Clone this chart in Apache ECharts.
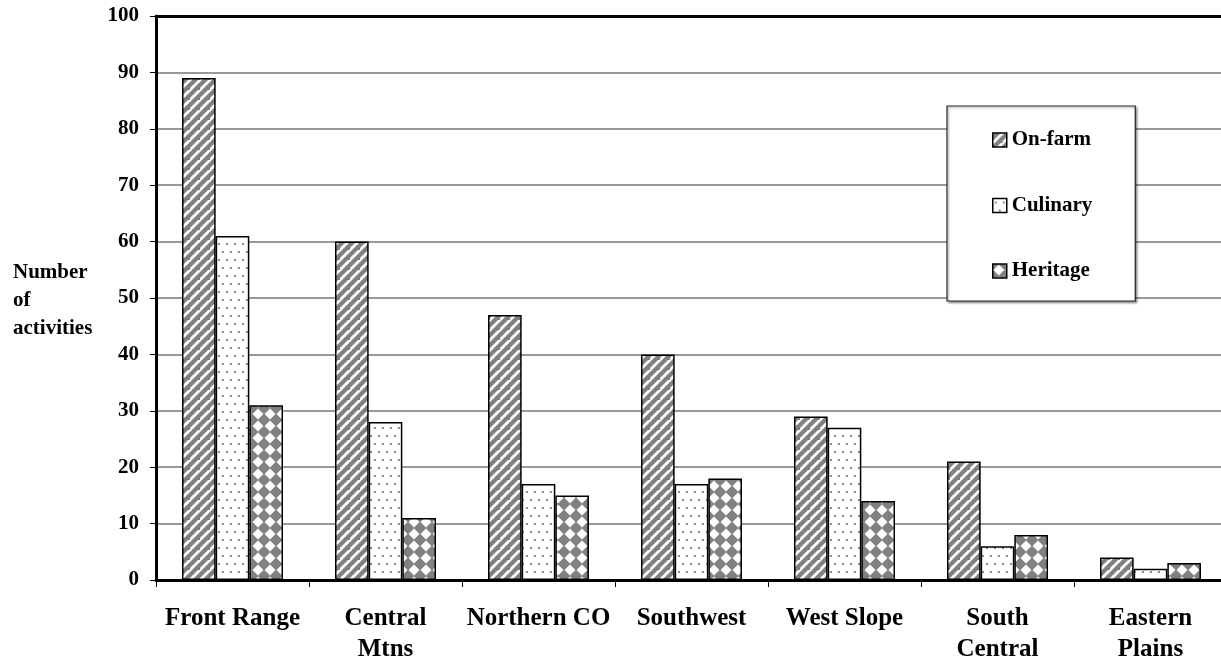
<!DOCTYPE html>
<html>
<head>
<meta charset="utf-8">
<script src="https://cdn.jsdelivr.net/npm/echarts@6/dist/echarts.min.js"></script>
<style>
  html, body { margin: 0; padding: 0; background: #fff; }
  #chart { width: 1221px; height: 661px; }
</style>
</head>
<body>
<div id="chart"></div>
<script>
// ---- Data ----
var categories = ['Front Range', 'Central\nMtns', 'Northern CO', 'Southwest', 'West Slope', 'South\nCentral', 'Eastern\nPlains'];
var seriesNames = ['On-farm', 'Culinary', 'Heritage'];
var onFarm   = [89, 60, 47, 40, 29, 21, 4];
var culinary = [61, 28, 17, 17, 27, 6, 2];
var heritage = [31, 11, 15, 18, 14, 8, 3];
var yTicks = { min: 0, max: 100, interval: 10 };
var yAxisTitle = 'Number\nof\nactivities';

// ---- Patterns ----
function stripePattern() {
  var s = 10, c = document.createElement('canvas');
  c.width = s; c.height = s;
  var g = c.getContext('2d');
  g.fillStyle = '#808080'; g.fillRect(0, 0, s, s);
  g.strokeStyle = '#ffffff'; g.lineWidth = 2.8;
  g.beginPath();
  g.moveTo(-3, s + 3); g.lineTo(s + 3, -3);
  g.moveTo(-3 - s, s + 3); g.lineTo(3, -3);
  g.moveTo(s - 3, 2 * s + 3); g.lineTo(2 * s + 3, s - 3);
  g.stroke();
  return c;
}
function dotPattern() {
  var s = 16, c = document.createElement('canvas');
  c.width = s; c.height = s;
  var g = c.getContext('2d');
  g.fillStyle = '#ffffff'; g.fillRect(0, 0, s, s);
  g.fillStyle = '#8c8c8c';
  [[2, 3], [10, 3], [6, 11], [14, 11]].forEach(function (p) {
    g.fillRect(p[0], p[1], 2, 2);
  });
  return c;
}
function diamondPattern() {
  var d = 12, c = document.createElement('canvas');
  c.width = d; c.height = d;
  var g = c.getContext('2d');
  g.fillStyle = '#808080'; g.fillRect(0, 0, d, d);
  g.fillStyle = '#ffffff';
  var h = d / 2, r = h - 0.5;
  g.beginPath();
  g.moveTo(h, h - r); g.lineTo(h + r, h); g.lineTo(h, h + r); g.lineTo(h - r, h);
  g.closePath(); g.fill();
  return c;
}
var patterns = [stripePattern(), dotPattern(), diamondPattern()];
var seriesData = [onFarm, culinary, heritage];

var FONT = 'Liberation Serif';
var chart = echarts.init(document.getElementById('chart'), null, { renderer: 'canvas' });

var series = seriesNames.map(function (name, i) {
  return {
    name: name,
    type: 'bar',
    data: seriesData[i],
    barGap: '0%',
    barCategoryGap: '34%',
    itemStyle: {
      color: { image: patterns[i], repeat: 'repeat' },
      borderColor: '#000',
      borderWidth: 1.5
    },
    emphasis: { disabled: true },
    animation: false
  };
});

chart.setOption({
  animation: false,
  backgroundColor: '#ffffff',
  title: {
    text: yAxisTitle,
    left: 13,
    top: 259,
    padding: 0,
    textStyle: { fontFamily: FONT, fontWeight: 'bold', fontSize: 21, lineHeight: 28, color: '#000' }
  },
  legend: {
    orient: 'vertical',
    left: 947,
    top: 106,
    padding: [22, 43, 18, 45],
    itemGap: 41.5,
    itemWidth: 14,
    itemHeight: 14,
    icon: 'rect',
    backgroundColor: '#fff',
    borderColor: '#222',
    borderWidth: 1.2,
    shadowColor: 'rgba(0,0,0,0.35)',
    shadowBlur: 2,
    shadowOffsetX: 1.5,
    shadowOffsetY: 1.5,
    itemStyle: { borderColor: '#000', borderWidth: 1.5 },
    textStyle: { fontFamily: FONT, fontWeight: 'bold', fontSize: 21, lineHeight: 24, color: '#000' },
    data: seriesNames
  },
  grid: { left: 156, top: 16, bottom: 81, right: -6, containLabel: false, outerBoundsMode: 'none' },
  xAxis: [{
    type: 'category',
    data: categories,
    position: 'bottom',
    axisLine: { lineStyle: { color: '#000', width: 3 } },
    axisTick: { show: true, alignWithLabel: false, length: 7, lineStyle: { color: '#000', width: 1 } },
    axisLabel: { margin: 23, fontFamily: FONT, fontWeight: 'bold', fontSize: 25, lineHeight: 31, color: '#000', interval: 0 },
    splitLine: { show: false }
  }, {
    type: 'category',
    data: categories,
    position: 'top',
    axisLine: { lineStyle: { color: '#000', width: 3 } },
    axisTick: { show: false },
    axisLabel: { show: false },
    splitLine: { show: false }
  }],
  yAxis: {
    type: 'value',
    min: yTicks.min,
    max: yTicks.max,
    interval: yTicks.interval,
    axisLine: { show: true, lineStyle: { color: '#000', width: 3 } },
    axisTick: { show: true, length: 6, lineStyle: { color: '#000', width: 1 } },
    axisLabel: { margin: 17, fontFamily: FONT, fontWeight: 'bold', fontSize: 21, color: '#000' },
    splitLine: { show: true, lineStyle: { color: '#777', width: 1.5 } }
  },
  series: series
});
</script>
</body>
</html>
